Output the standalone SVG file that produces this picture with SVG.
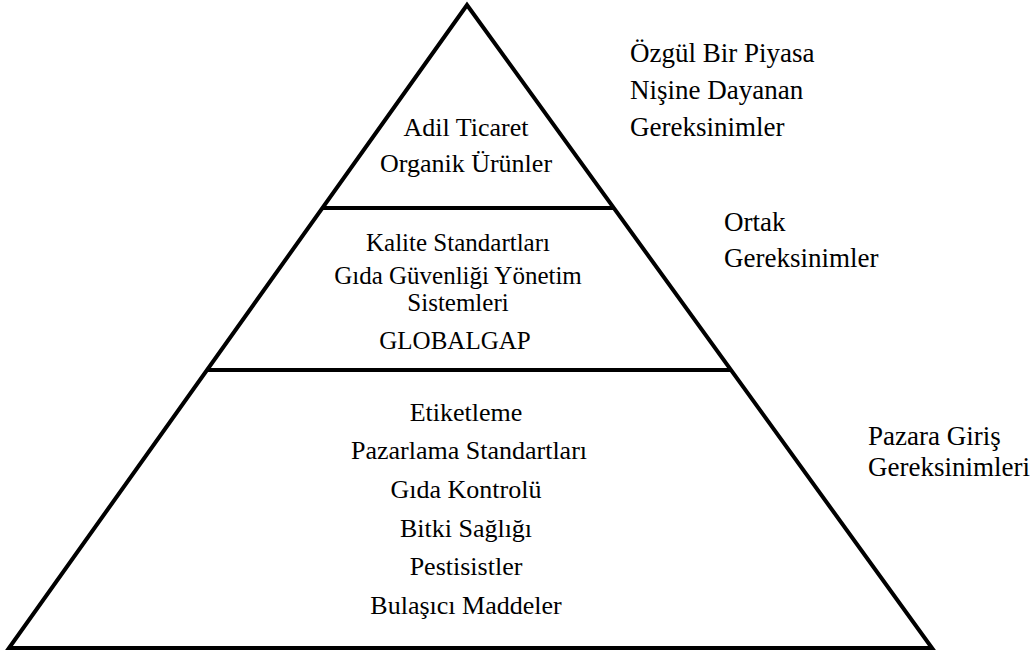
<svg xmlns="http://www.w3.org/2000/svg" width="1036" height="657" viewBox="0 0 1036 657">
<style>
.t{font-family:'Liberation Serif','Times New Roman',Times,serif;font-size:26px;fill:#000}
.m{font-size:25px}
.r{font-size:27px}
.c{text-anchor:middle}
.ln{stroke:#000;stroke-width:4;fill:none}
</style>
<rect width="1036" height="657" fill="#fff"/>
<g id="pyramid">
<polygon class="ln" points="467,5 932,648 9,648" stroke-linejoin="miter"/>
</g>
<g id="connectors">
<line class="ln" x1="322" y1="208" x2="614" y2="208"/>
<line class="ln" x1="208" y1="370" x2="731" y2="370"/>
</g>
<g id="tier-top">
<text class="t c" x="466" y="136">Adil Ticaret</text>
<text class="t c" x="466" y="172">Organik Ürünler</text>
</g>
<g id="tier-middle">
<text class="t m c" x="458" y="251">Kalite Standartları</text>
<text class="t m c" x="458" y="284">Gıda Güvenliği Yönetim</text>
<text class="t m c" x="458" y="311">Sistemleri</text>
<text class="t m c" x="455" y="349">GLOBALGAP</text>
</g>
<g id="tier-bottom">
<text class="t c" x="466" y="421">Etiketleme</text>
<text class="t c" x="469" y="459">Pazarlama Standartları</text>
<text class="t c" x="466" y="498">Gıda Kontrolü</text>
<text class="t c" x="466" y="537">Bitki Sağlığı</text>
<text class="t c" x="466" y="575">Pestisistler</text>
<text class="t c" x="466" y="614">Bulaşıcı Maddeler</text>
</g>
<g id="label-top">
<text class="t r" x="630" y="62">Özgül Bir Piyasa</text>
<text class="t r" x="630" y="99">Nişine Dayanan</text>
<text class="t r" x="630" y="136">Gereksinimler</text>
</g>
<g id="label-middle">
<text class="t r" x="724" y="231">Ortak</text>
<text class="t r" x="724" y="267">Gereksinimler</text>
</g>
<g id="label-bottom">
<text class="t r" x="868" y="445">Pazara Giriş</text>
<text class="t r" x="868" y="476">Gereksinimleri</text>
</g>
</svg>
